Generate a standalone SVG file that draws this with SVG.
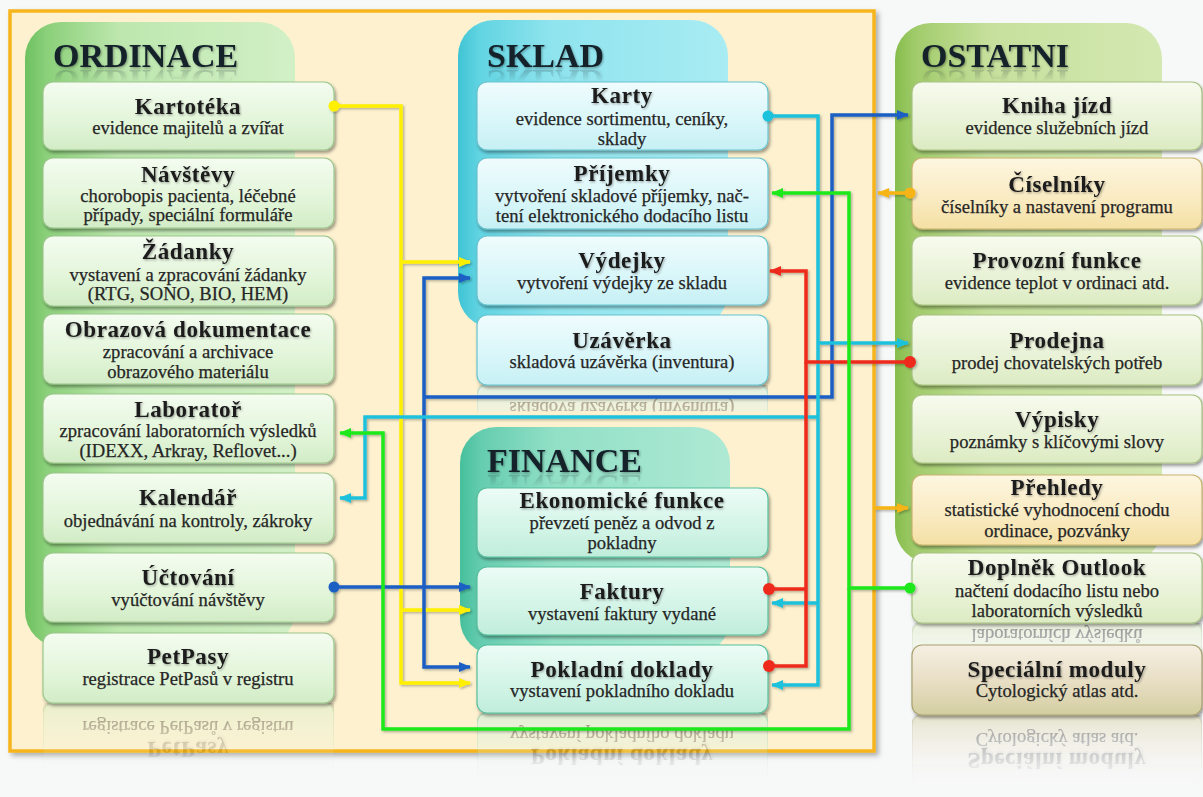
<svg xmlns="http://www.w3.org/2000/svg" xmlns:xlink="http://www.w3.org/1999/xlink" width="1203" height="797" viewBox="0 0 1203 797">
  <defs>
    <style>
      .ttl { font-family: "Liberation Serif", "DejaVu Serif", serif; font-weight: bold; font-size: 23px; fill: #1a1a1a; text-anchor: middle; letter-spacing: 0.6px; }
      .sub { font-family: "Liberation Serif", "DejaVu Serif", serif; font-size: 18.6px; fill: #262626; stroke: #262626; stroke-width: 0.25px; text-anchor: middle; }
      .grp { font-family: "Liberation Serif", "DejaVu Serif", serif; font-weight: bold; font-size: 34px; fill: #13212b; }
      .box { stroke-width: 1.2; filter: url(#nodeShadow); }
      .ord { fill: url(#gOrd); stroke: #9cc68c; }
      .skl { fill: url(#gSkl); stroke: #69c3cf; }
      .fin { fill: url(#gFin); stroke: #58bf9e; }
      .ost { fill: url(#gOst); stroke: #a9c283; }
      .org { fill: url(#gOrg); stroke: #c9b36e; }
      .tan { fill: url(#gTan); stroke: #aaa070; }
      .line { fill: none; stroke-width: 3.5; stroke-linejoin: miter; }
      .yel { stroke: #fff000; }
      .blu { stroke: #1d5fc4; }
      .cya { stroke: #1fc1dc; }
      .red { stroke: #ee2b1b; }
      .grn { stroke: #1ee81e; }
      .orn { stroke: #f7b416; }
    </style>

    <!-- node fills -->
    <linearGradient id="gOrd" x1="0" y1="0" x2="0" y2="1">
      <stop offset="0" stop-color="#f4fcf0"/><stop offset="0.6" stop-color="#e2f5d9"/><stop offset="1" stop-color="#d2ecc6"/>
    </linearGradient>
    <linearGradient id="gSkl" x1="0" y1="0" x2="0" y2="1">
      <stop offset="0" stop-color="#f0fcfd"/><stop offset="0.6" stop-color="#d8f6f9"/><stop offset="1" stop-color="#c6f0f5"/>
    </linearGradient>
    <linearGradient id="gFin" x1="0" y1="0" x2="0" y2="1">
      <stop offset="0" stop-color="#ecfcf6"/><stop offset="0.6" stop-color="#d2f4e7"/><stop offset="1" stop-color="#c0eddb"/>
    </linearGradient>
    <linearGradient id="gOst" x1="0" y1="0" x2="0" y2="1">
      <stop offset="0" stop-color="#f7fbee"/><stop offset="0.6" stop-color="#e8f2d6"/><stop offset="1" stop-color="#dcebc2"/>
    </linearGradient>
    <linearGradient id="gOrg" x1="0" y1="0" x2="0" y2="1">
      <stop offset="0" stop-color="#fdf6e0"/><stop offset="0.6" stop-color="#f9eac0"/><stop offset="1" stop-color="#f4e0a4"/>
    </linearGradient>
    <linearGradient id="gTan" x1="0" y1="0" x2="0" y2="1">
      <stop offset="0" stop-color="#f5f0e2"/><stop offset="0.5" stop-color="#e9dfc6"/><stop offset="1" stop-color="#d3cea0"/>
    </linearGradient>

    <!-- group panel fills -->
    <linearGradient id="pOrd" x1="0" y1="0" x2="1" y2="0">
      <stop offset="0" stop-color="#6ec15f"/><stop offset="0.08" stop-color="#8bd07a"/><stop offset="0.35" stop-color="#bde7ae"/><stop offset="1" stop-color="#d2f0c6"/>
    </linearGradient>
    <linearGradient id="pSkl" x1="0" y1="0" x2="1" y2="0">
      <stop offset="0" stop-color="#3fc4d4"/><stop offset="0.08" stop-color="#62d4e2"/><stop offset="0.35" stop-color="#8fe4ee"/><stop offset="1" stop-color="#a9ecf3"/>
    </linearGradient>
    <linearGradient id="pFin" x1="0" y1="0" x2="1" y2="0">
      <stop offset="0" stop-color="#46bf9c"/><stop offset="0.08" stop-color="#66cdb0"/><stop offset="0.35" stop-color="#92e0c6"/><stop offset="1" stop-color="#aee9d4"/>
    </linearGradient>
    <linearGradient id="pOst" x1="0" y1="0" x2="1" y2="0">
      <stop offset="0" stop-color="#86bd4c"/><stop offset="0.08" stop-color="#a2cc6c"/><stop offset="0.35" stop-color="#c6e09c"/><stop offset="1" stop-color="#d4e8b2"/>
    </linearGradient>

    <!-- fading mask for mirrored reflections -->
    <linearGradient id="fadeGrad" x1="0" y1="0" x2="0" y2="1">
      <stop offset="0" stop-color="#fff" stop-opacity="0"/>
      <stop offset="0.2" stop-color="#fff" stop-opacity="0.06"/>
      <stop offset="1" stop-color="#fff" stop-opacity="0.5"/>
    </linearGradient>
    <mask id="reflFade" maskContentUnits="objectBoundingBox">
      <rect width="1" height="1" fill="url(#fadeGrad)"/>
    </mask>
    <clipPath id="reflShort" clipPathUnits="objectBoundingBox">
      <rect x="-0.05" y="0.62" width="1.1" height="0.4"/>
    </clipPath>
    <linearGradient id="fadeTitle" x1="0" y1="0" x2="0" y2="1">
      <stop offset="0" stop-color="#fff" stop-opacity="0"/>
      <stop offset="0.5" stop-color="#fff" stop-opacity="0"/>
      <stop offset="1" stop-color="#fff" stop-opacity="0.35"/>
    </linearGradient>
    <mask id="titleFade" maskContentUnits="objectBoundingBox">
      <rect width="1" height="1" fill="url(#fadeTitle)"/>
    </mask>

    <filter id="nodeShadow" x="-5%" y="-10%" width="112%" height="130%">
      <feDropShadow dx="1.5" dy="2.5" stdDeviation="1.5" flood-color="#000" flood-opacity="0.38"/>
    </filter>
    <filter id="frameShadow" x="-2%" y="-2%" width="105%" height="105%">
      <feDropShadow dx="3" dy="3" stdDeviation="2.5" flood-color="#000" flood-opacity="0.3"/>
    </filter>
    <filter id="lineShadow" x="-2%" y="-2%" width="105%" height="105%">
      <feDropShadow dx="1.5" dy="1.5" stdDeviation="1" flood-color="#000" flood-opacity="0.28"/>
    </filter>
    <filter id="textShadow" x="-5%" y="-20%" width="110%" height="150%">
      <feDropShadow dx="1" dy="1.2" stdDeviation="0.8" flood-color="#000" flood-opacity="0.35"/>
    </filter>

    <!-- arrowheads -->
    <marker id="ahYel" markerUnits="userSpaceOnUse" viewBox="0 0 12 10" refX="11" refY="5" markerWidth="12" markerHeight="10" orient="auto"><path d="M0,0 L12,5 L0,10 z" fill="#fff000"/></marker>
    <marker id="ahBlu" markerUnits="userSpaceOnUse" viewBox="0 0 12 10" refX="11" refY="5" markerWidth="12" markerHeight="10" orient="auto"><path d="M0,0 L12,5 L0,10 z" fill="#1d5fc4"/></marker>
    <marker id="ahCya" markerUnits="userSpaceOnUse" viewBox="0 0 12 10" refX="11" refY="5" markerWidth="12" markerHeight="10" orient="auto"><path d="M0,0 L12,5 L0,10 z" fill="#1fc1dc"/></marker>
    <marker id="ahRed" markerUnits="userSpaceOnUse" viewBox="0 0 12 10" refX="11" refY="5" markerWidth="12" markerHeight="10" orient="auto"><path d="M0,0 L12,5 L0,10 z" fill="#ee2b1b"/></marker>
    <marker id="ahGrn" markerUnits="userSpaceOnUse" viewBox="0 0 12 10" refX="11" refY="5" markerWidth="12" markerHeight="10" orient="auto"><path d="M0,0 L12,5 L0,10 z" fill="#1ee81e"/></marker>
    <marker id="ahOrn" markerUnits="userSpaceOnUse" viewBox="0 0 12 10" refX="11" refY="5" markerWidth="12" markerHeight="10" orient="auto"><path d="M0,0 L12,5 L0,10 z" fill="#f7b416"/></marker>
  </defs>

  <!-- page -->
  <rect width="1203" height="797" fill="#f7f8f8"/>

  <!-- cream frame holding the ordinace / sklad / finance blocks -->
  <g id="frame">
    <rect x="10" y="11" width="864" height="740" fill="#fdf1cf" stroke="#f6b51d" stroke-width="3.5" filter="url(#frameShadow)"/>
  </g>

  <!-- group panels -->
  <g id="panel-ordinace">
    <rect x="25" y="22" width="270" height="625" rx="36" fill="url(#pOrd)"/>
    <text id="t-ordinace" class="grp" x="53" y="67" filter="url(#textShadow)">ORDINACE</text>
    <use xlink:href="#t-ordinace" transform="matrix(1,0,0,-1,0,137)" mask="url(#titleFade)"/>
  </g>
  <g id="panel-sklad">
    <rect x="458" y="20" width="270" height="308" rx="36" fill="url(#pSkl)"/>
    <text id="t-sklad" class="grp" x="487" y="67" filter="url(#textShadow)">SKLAD</text>
    <use xlink:href="#t-sklad" transform="matrix(1,0,0,-1,0,137)" mask="url(#titleFade)"/>
  </g>
  <g id="panel-finance">
    <rect x="460" y="427" width="270" height="228" rx="36" fill="url(#pFin)"/>
    <text id="t-finance" class="grp" x="487" y="472" filter="url(#textShadow)">FINANCE</text>
    <use xlink:href="#t-finance" transform="matrix(1,0,0,-1,0,947)" mask="url(#titleFade)"/>
  </g>
  <g id="panel-ostatni">
    <rect x="895" y="23" width="267" height="540" rx="36" fill="url(#pOst)"/>
    <text id="t-ostatni" class="grp" x="921" y="67" filter="url(#textShadow)">OSTATNI</text>
    <use xlink:href="#t-ostatni" transform="matrix(1,0,0,-1,0,137)" mask="url(#titleFade)"/>
  </g>

  <!-- mirrored reflections under the last boxes of each column -->
  <g id="reflections">
    <use xlink:href="#n-petpasy" transform="matrix(1,0,0,-1,0,1406)" mask="url(#reflFade)"/>
    <use xlink:href="#n-uzaverka" transform="matrix(1,0,0,-1,0,770)" mask="url(#reflFade)" clip-path="url(#reflShort)"/>
    <use xlink:href="#n-pokladni" transform="matrix(1,0,0,-1,0,1426)" mask="url(#reflFade)"/>
    <use xlink:href="#n-doplnek" transform="matrix(1,0,0,-1,0,1246)" mask="url(#reflFade)"/>
    <use xlink:href="#n-specialni" transform="matrix(1,0,0,-1,0,1430)" mask="url(#reflFade)"/>
  </g>

  <!-- ORDINACE -->
  <g id="n-kartoteka">
    <rect class="box ord" x="43" y="82" width="291" height="68" rx="10"/>
    <text class="ttl" x="188" y="114" filter="url(#textShadow)">Kartotéka</text>
    <text class="sub" x="188" y="134">evidence majitelů a zvířat</text>
  </g>
  <g id="n-navstevy">
    <rect class="box ord" x="43" y="158" width="291" height="70" rx="10"/>
    <text class="ttl" x="188" y="182" filter="url(#textShadow)">Návštěvy</text>
    <text class="sub" x="188" y="202">chorobopis pacienta, léčebné</text>
    <text class="sub" x="188" y="221">případy, speciální formuláře</text>
  </g>
  <g id="n-zadanky">
    <rect class="box ord" x="43" y="236" width="291" height="70" rx="10"/>
    <text class="ttl" x="188" y="259" filter="url(#textShadow)">Žádanky</text>
    <text class="sub" x="188" y="281">vystavení a zpracování žádanky</text>
    <text class="sub" x="188" y="300">(RTG, SONO, BIO, HEM)</text>
  </g>
  <g id="n-obrazova">
    <rect class="box ord" x="43" y="314" width="291" height="70" rx="10"/>
    <text class="ttl" x="188" y="337" filter="url(#textShadow)">Obrazová dokumentace</text>
    <text class="sub" x="188" y="358">zpracování a archivace</text>
    <text class="sub" x="188" y="378">obrazového materiálu</text>
  </g>
  <g id="n-laborator">
    <rect class="box ord" x="43" y="394" width="291" height="69" rx="10"/>
    <text class="ttl" x="188" y="417" filter="url(#textShadow)">Laboratoř</text>
    <text class="sub" x="188" y="437">zpracování laboratorních výsledků</text>
    <text class="sub" x="188" y="457">(IDEXX, Arkray, Reflovet...)</text>
  </g>
  <g id="n-kalendar">
    <rect class="box ord" x="43" y="473" width="291" height="70" rx="10"/>
    <text class="ttl" x="188" y="505" filter="url(#textShadow)">Kalendář</text>
    <text class="sub" x="188" y="527">objednávání na kontroly, zákroky</text>
  </g>
  <g id="n-uctovani">
    <rect class="box ord" x="43" y="553" width="291" height="69" rx="10"/>
    <text class="ttl" x="188" y="585" filter="url(#textShadow)">Účtování</text>
    <text class="sub" x="188" y="606">vyúčtování návštěvy</text>
  </g>
  <g id="n-petpasy">
    <rect class="box ord" x="43" y="633" width="291" height="70" rx="10"/>
    <text class="ttl" x="188" y="664" filter="url(#textShadow)">PetPasy</text>
    <text class="sub" x="188" y="685">registrace PetPasů v registru</text>
  </g>

  <!-- SKLAD -->
  <g id="n-karty">
    <rect class="box skl" x="477" y="82" width="291" height="68" rx="10"/>
    <text class="ttl" x="622" y="103" filter="url(#textShadow)">Karty</text>
    <text class="sub" x="622" y="125">evidence sortimentu, ceníky,</text>
    <text class="sub" x="622" y="145">sklady</text>
  </g>
  <g id="n-prijemky">
    <rect class="box skl" x="477" y="158" width="291" height="71" rx="10"/>
    <text class="ttl" x="622" y="181" filter="url(#textShadow)">Příjemky</text>
    <text class="sub" x="622" y="202">vytvoření skladové příjemky, nač-</text>
    <text class="sub" x="622" y="222">tení elektronického dodacího listu</text>
  </g>
  <g id="n-vydejky">
    <rect class="box skl" x="477" y="236" width="291" height="69" rx="10"/>
    <text class="ttl" x="622" y="268" filter="url(#textShadow)">Výdejky</text>
    <text class="sub" x="622" y="289">vytvoření výdejky ze skladu</text>
  </g>
  <g id="n-uzaverka">
    <rect class="box skl" x="477" y="315" width="291" height="70" rx="10"/>
    <text class="ttl" x="622" y="348" filter="url(#textShadow)">Uzávěrka</text>
    <text class="sub" x="622" y="368">skladová uzávěrka (inventura)</text>
  </g>

  <!-- FINANCE -->
  <g id="n-ekonomicke">
    <rect class="box fin" x="477" y="488" width="291" height="69" rx="10"/>
    <text class="ttl" x="622" y="508" filter="url(#textShadow)">Ekonomické funkce</text>
    <text class="sub" x="622" y="529">převzetí peněz a odvod z</text>
    <text class="sub" x="622" y="549">pokladny</text>
  </g>
  <g id="n-faktury">
    <rect class="box fin" x="477" y="567" width="291" height="68" rx="10"/>
    <text class="ttl" x="622" y="599" filter="url(#textShadow)">Faktury</text>
    <text class="sub" x="622" y="620">vystavení faktury vydané</text>
  </g>
  <g id="n-pokladni">
    <rect class="box fin" x="477" y="645" width="291" height="68" rx="10"/>
    <text class="ttl" x="622" y="677" filter="url(#textShadow)">Pokladní doklady</text>
    <text class="sub" x="622" y="697">vystavení pokladního dokladu</text>
  </g>

  <!-- OSTATNI -->
  <g id="n-kniha">
    <rect class="box ost" x="912" y="82" width="290" height="68" rx="10"/>
    <text class="ttl" x="1057" y="113" filter="url(#textShadow)">Kniha jízd</text>
    <text class="sub" x="1057" y="134">evidence služebních jízd</text>
  </g>
  <g id="n-ciselniky">
    <rect class="box org" x="912" y="158" width="290" height="71" rx="10"/>
    <text class="ttl" x="1057" y="192" filter="url(#textShadow)">Číselníky</text>
    <text class="sub" x="1057" y="213">číselníky a nastavení programu</text>
  </g>
  <g id="n-provozni">
    <rect class="box ost" x="912" y="236" width="290" height="69" rx="10"/>
    <text class="ttl" x="1057" y="268" filter="url(#textShadow)">Provozní funkce</text>
    <text class="sub" x="1057" y="289">evidence teplot v ordinaci atd.</text>
  </g>
  <g id="n-prodejna">
    <rect class="box ost" x="912" y="315" width="290" height="70" rx="10"/>
    <text class="ttl" x="1057" y="348" filter="url(#textShadow)">Prodejna</text>
    <text class="sub" x="1057" y="369">prodej chovatelských potřeb</text>
  </g>
  <g id="n-vypisky">
    <rect class="box ost" x="912" y="395" width="290" height="68" rx="10"/>
    <text class="ttl" x="1057" y="427" filter="url(#textShadow)">Výpisky</text>
    <text class="sub" x="1057" y="448">poznámky s klíčovými slovy</text>
  </g>
  <g id="n-prehledy">
    <rect class="box org" x="912" y="475" width="290" height="70" rx="10"/>
    <text class="ttl" x="1057" y="495" filter="url(#textShadow)">Přehledy</text>
    <text class="sub" x="1057" y="516">statistické vyhodnocení chodu</text>
    <text class="sub" x="1057" y="537">ordinace, pozvánky</text>
  </g>
  <g id="n-doplnek">
    <rect class="box ost" x="912" y="553" width="290" height="70" rx="10"/>
    <text class="ttl" x="1057" y="575" filter="url(#textShadow)">Doplněk Outlook</text>
    <text class="sub" x="1057" y="597">načtení dodacího listu nebo</text>
    <text class="sub" x="1057" y="617">laboratorních výsledků</text>
  </g>
  <g id="n-specialni">
    <rect class="box tan" x="912" y="645" width="290" height="70" rx="10"/>
    <text class="ttl" x="1057" y="677" filter="url(#textShadow)">Speciální moduly</text>
    <text class="sub" x="1057" y="697">Cytologický atlas atd.</text>
  </g>

  <!-- connectors -->
  <g id="connectors" filter="url(#lineShadow)">
    <!-- yellow: Kartotéka to Výdejky, Faktury, Pokladní doklady -->
    <path class="line yel" d="M334,106 H401 V683 H470" marker-end="url(#ahYel)"/>
    <path class="line yel" d="M401,262 H470" marker-end="url(#ahYel)"/>
    <path class="line yel" d="M401,610 H470" marker-end="url(#ahYel)"/>
    <circle cx="334" cy="106" r="5.5" fill="#fff000"/>

    <!-- dark blue: Účtování network -->
    <path class="line blu" d="M424,397 V278 H470" marker-end="url(#ahBlu)"/>
    <path class="line blu" d="M424,397 V667 H470" marker-end="url(#ahBlu)"/>
    <path class="line blu" d="M424,397 H832 V115 H908" marker-end="url(#ahBlu)"/>
    <path class="line blu" d="M334,587 H470" marker-end="url(#ahBlu)"/>
    <circle cx="334" cy="587" r="5.5" fill="#1d5fc4"/>

    <!-- cyan: Karty network -->
    <path class="line cya" d="M768,116 H818 V685 H772" marker-end="url(#ahCya)"/>
    <path class="line cya" d="M818,343 H908" marker-end="url(#ahCya)"/>
    <path class="line cya" d="M818,417 H365 V498 H340" marker-end="url(#ahCya)"/>
    <path class="line cya" d="M818,603 H772" marker-end="url(#ahCya)"/>
    <circle cx="768" cy="116" r="5.5" fill="#1fc1dc"/>

    <!-- red: Prodejna / Faktury / Pokladní doklady to Výdejky -->
    <path class="line red" d="M910,362 H806 V271 H770" marker-end="url(#ahRed)"/>
    <path class="line red" d="M806,362 V666 H769"/>
    <path class="line red" d="M806,589 H769"/>
    <circle cx="910" cy="362" r="6" fill="#ee2b1b"/>
    <circle cx="769" cy="589" r="6" fill="#ee2b1b"/>
    <circle cx="769" cy="666" r="6" fill="#ee2b1b"/>

    <!-- green: Doplněk Outlook to Příjemky and Laboratoř -->
    <path class="line grn" d="M910,588 H849 V193 H772" marker-end="url(#ahGrn)"/>
    <path class="line grn" d="M849,588 V729 H383 V433 H340" marker-end="url(#ahGrn)"/>
    <circle cx="910" cy="588" r="5.5" fill="#1ee81e"/>

    <!-- orange: Číselníky and Přehledy against the frame -->
    <path class="line orn" d="M910,193 H878" marker-end="url(#ahOrn)"/>
    <circle cx="910" cy="193" r="5.5" fill="#f7b416"/>
    <path class="line orn" d="M875,508 H908" marker-end="url(#ahOrn)"/>
  </g>
</svg>
